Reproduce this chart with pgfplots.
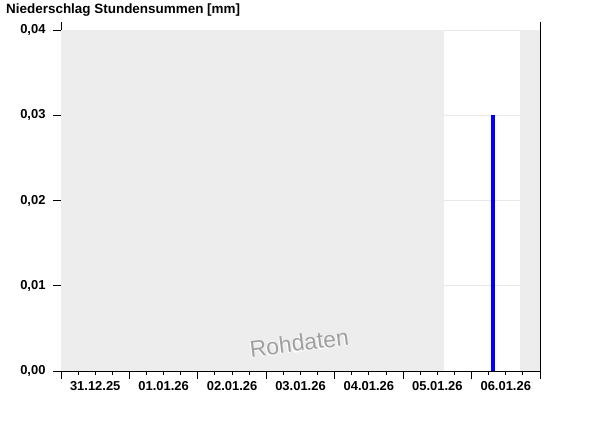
\documentclass[border=0pt]{standalone}
\usepackage{fontspec}
\setmainfont{Liberation Sans}
\usepackage{pgfplots}
\pgfplotsset{compat=1.18}
\definecolor{bggrey}{HTML}{EDEDED}
\definecolor{gridgrey}{HTML}{E8E8E8}
\definecolor{wmgrey}{HTML}{A0A0A0}
\begin{document}
\begin{tikzpicture}[x=1bp,y=1bp]
\path[use as bounding box] (0,0) rectangle (600,426);
\node[anchor=base west, font=\bfseries\fontsize{13.5}{15}\selectfont, inner sep=0] at (6,412) {Niederschlag Stundensummen [mm]};
\begin{axis}[at={(61bp,55bp)}, anchor=south west, scale only axis,
  width=479bp, height=349bp,
  xmin=0, xmax=7, ymin=0, ymax=0.04094,
  axis x line*=bottom, axis y line*=left,
  axis line style={black, line width=1bp},
  tick align=outside,
  major tick length=8bp, minor tick length=4bp,
  tick style={black, line width=1bp},
  ytick={0,0.01,0.02,0.03,0.04},
  scaled y ticks=false,
  ymajorgrids, grid style={gridgrey, line width=1bp},
  yticklabel style={xshift=-4bp, /pgf/number format/fixed, /pgf/number format/fixed zerofill, /pgf/number format/precision=2, /pgf/number format/use comma, /pgf/number format/assume math mode=true},
  ticklabel style={font=\bfseries\fontsize{13}{15}\selectfont},
  xtick={0,1,2,3,4,5,6,7}, xticklabels={},
  minor x tick num=3,
  extra x ticks={0.5,1.5,2.5,3.5,4.5,5.5,6.5},
  extra x tick labels={31.12.25,01.01.26,02.01.26,03.01.26,04.01.26,05.01.26,06.01.26},
  extra x tick style={major tick length=0pt, grid=none, xticklabel style={yshift=-7bp}},
  clip=false,
]
\addplot[fill=bggrey, draw=none] coordinates {(0,0) (5.6,0) (5.6,0.04) (0,0.04)} -- cycle;
\addplot[fill=bggrey, draw=none] coordinates {(6.71,0) (7,0) (7,0.04) (6.71,0.04)} -- cycle;
\addplot[ybar, bar width=4.5bp, fill=blue, draw=none] coordinates {(6.316,0.03)};
\draw[black, line width=1bp] (rel axis cs:1,0) -- (rel axis cs:1,1);
\node[rotate=7, font=\fontsize{23}{25}\selectfont, text=white] at (axis cs:3.465,0.00316) {Rohdaten};
\node[rotate=7, font=\fontsize{23}{25}\selectfont, text=wmgrey] at (axis cs:3.48,0.0033) {Rohdaten};
\end{axis}
\end{tikzpicture}
\end{document}
